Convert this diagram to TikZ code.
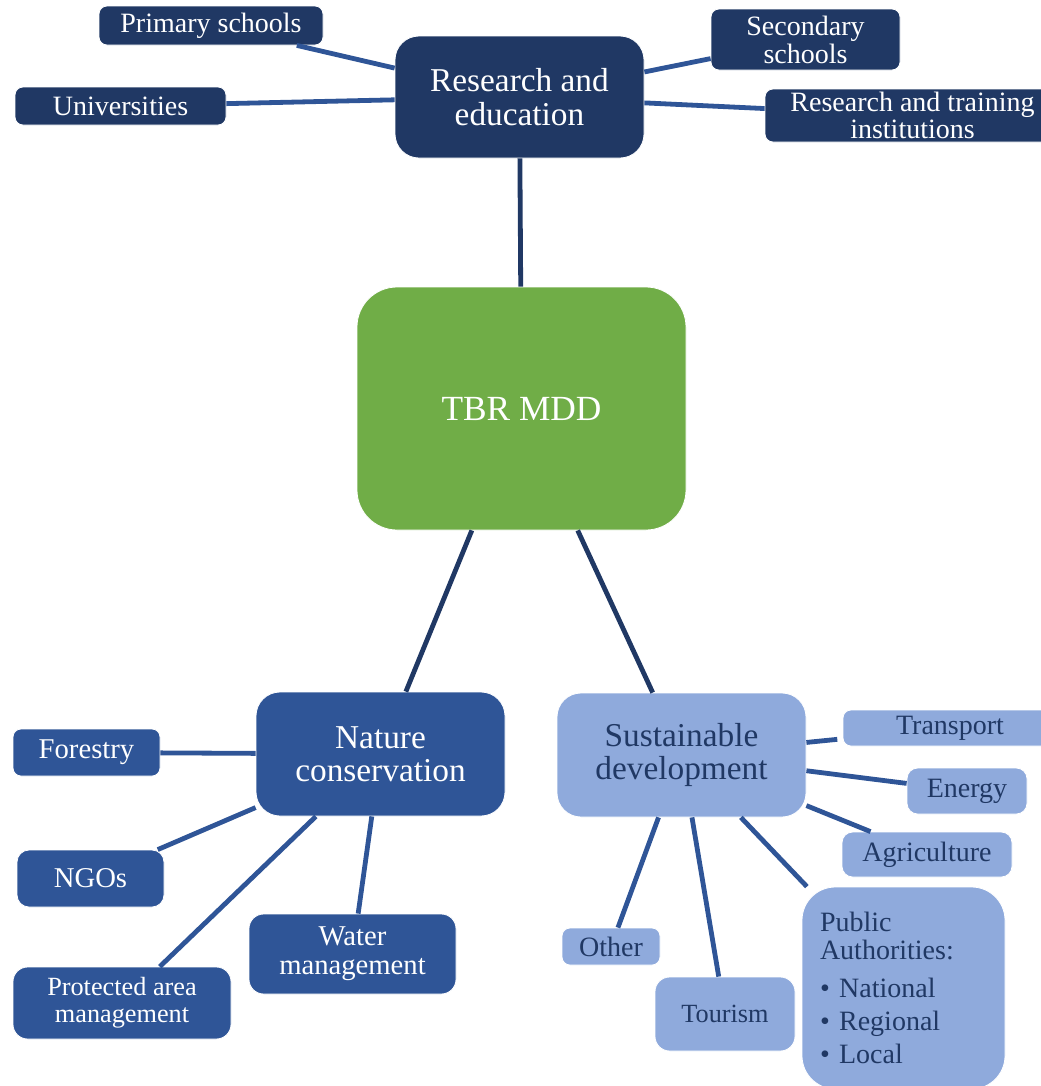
\documentclass[tikz,border=0pt]{standalone}
\usepackage{fontspec}
\setmainfont{Liberation Serif}
\definecolor{navy}{HTML}{203864}
\definecolor{midblue}{HTML}{2F5597}
\definecolor{paleblue}{HTML}{8FAADC}
\definecolor{leaf}{HTML}{70AD47}
\tikzset{box/.style={draw=white,line width=0.6pt,rounded corners=6pt,align=center,inner sep=2pt,text=white},
 edu/.style={box,fill=navy,font=\fontsize{21}{21}\selectfont},
 nat/.style={box,fill=midblue,font=\fontsize{21.5}{22}\selectfont},
 dev/.style={box,fill=paleblue,text=navy,font=\fontsize{21}{21}\selectfont},
 hub/.style={rounded corners=18pt,font=\fontsize{25}{25.5}\selectfont},
 spokeline/.style={midblue,line width=3.6pt},
 trunk/.style={navy,line width=3.6pt}}
\newcommand{\spoke}[2]{\draw[spokeline](#1)--(#2);}

\begin{document}
\begin{tikzpicture}[x=0.75pt,y=-0.75pt]
\useasboundingbox(0,0) rectangle (1040,1086);
% research and education
\node[edu,hub,minimum width=186.75pt,minimum height=91.5pt](re) at(519.5,97){Research and\\education};
\node[edu,minimum width=168pt,minimum height=29.25pt](ps) at(211,25.5){Primary schools};
\node[edu,minimum width=158.25pt,minimum height=28.5pt](uni) at(120.5,106){Universities};
\node[edu,minimum width=141.75pt,minimum height=45.75pt](ss) at(805.5,39.5){Secondary\\schools};
\node[edu,minimum width=221.25pt,minimum height=39.75pt,font=\fontsize{21}{20}\selectfont](rt) at(912.5,115.5){Research and training\\institutions};
% centre
\node[box,fill=leaf,rounded corners=30pt,minimum width=246.75pt,minimum height=182.25pt,font=\fontsize{26.5}{30}\selectfont](tbr) at(521.5,408.5){TBR MDD};
% nature conservation
\node[nat,hub,minimum width=186.75pt,minimum height=93pt,font=\fontsize{25}{25}\selectfont](nc) at(380.5,754){Nature\\conservation};
\node[nat,minimum width=110.25pt,minimum height=35.25pt](fo) at(86.5,752.5){Forestry};
\node[nat,rounded corners=9pt,minimum width=110.25pt,minimum height=42.75pt](ngo) at(90.5,878.5){NGOs};
\node[nat,rounded corners=11pt,minimum width=163.5pt,minimum height=54pt,font=\fontsize{19.7}{20}\selectfont](pam) at(122,1003){Protected area\\management};
\node[nat,rounded corners=11pt,minimum width=155.25pt,minimum height=60pt](wm) at(352.5,954){Water\\management};
% sustainable development
\node[dev,hub,minimum width=186.75pt,minimum height=93pt,font=\fontsize{25}{25}\selectfont](sd) at(681.5,755){Sustainable\\development};
\node[dev,minimum width=160.5pt,minimum height=27pt](tr) at(950,728){Transport};
\node[dev,rounded corners=8pt,minimum width=90pt,minimum height=34.5pt](en) at(967,791){Energy};
\node[dev,rounded corners=8pt,minimum width=127.5pt,minimum height=33.75pt](ag) at(927,854.5){Agriculture};
\node[dev,rounded corners=25pt,align=left,minimum width=152.25pt,minimum height=151.5pt,inner xsep=13.5pt,text width=125.25pt](pa) at(903.5,988){Public\\Authorities:\\[7.5pt]\textbullet\ National\\[3.5pt]\textbullet\ Regional\\[3.5pt]\textbullet\ Local};
\node[dev,minimum width=73.5pt,minimum height=27.75pt](ot) at(611,946.5){Other};
\node[dev,rounded corners=11pt,minimum width=105pt,minimum height=55.5pt,font=\fontsize{19.7}{20}\selectfont](to) at(725,1014){Tourism};
% connectors
\draw[trunk](re)--(tbr);
\draw[trunk](tbr)--(nc);
\draw[trunk](tbr)--(sd);
\spoke{ps}{re}\spoke{uni}{re}\spoke{ss}{re}\spoke{rt}{re}
\spoke{fo}{nc}\spoke{ngo}{nc}\spoke{pam}{nc}\spoke{wm}{nc}
\draw[spokeline,shorten >=4pt](sd)--(tr);
\spoke{sd}{en}\spoke{sd}{ag}\spoke{sd}{pa}\spoke{sd}{ot}\spoke{sd}{to}
\end{tikzpicture}
\end{document}
